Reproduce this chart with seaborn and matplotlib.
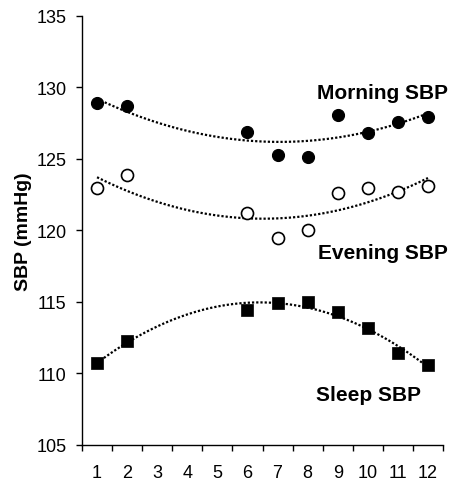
import numpy as np
import pandas as pd
import matplotlib
matplotlib.use("Agg")
import matplotlib.pyplot as plt
import seaborn as sns

months = [1, 2, 6, 7, 8, 9, 10, 11, 12]
morning = [128.9, 128.7, 126.85, 125.3, 125.1, 128.05, 126.8, 127.6, 127.9]
evening = [122.95, 123.9, 121.2, 119.5, 120.0, 122.6, 122.95, 122.7, 123.1]
sleep = [110.7, 112.3, 114.4, 114.9, 115.0, 114.3, 113.2, 111.4, 110.6]
xticks = list(range(1, 13))
yticks = [105, 110, 115, 120, 125, 130, 135]
labels = ["Morning SBP", "Evening SBP", "Sleep SBP"]

sns.set_style("ticks")
plt.rcParams['font.family'] = ['Liberation Sans', 'DejaVu Sans']
plt.rcParams['text.color'] = 'black'
plt.rcParams['axes.labelcolor'] = 'black'
plt.rcParams['xtick.color'] = 'black'
plt.rcParams['ytick.color'] = 'black'

df = pd.DataFrame({"month": months, "morning": morning, "evening": evening, "sleep": sleep})

fig = plt.figure(figsize=(4.5, 4.81), dpi=100)
ax = fig.add_axes([82/450, 35/481, (443-82)/450, 429.3/481])

line_kws = dict(color="black", lw=1.6, dashes=(1, 0.9), alpha=1)

sns.regplot(data=df, x="month", y="morning", order=2, ci=None, ax=ax,
            marker="o", scatter_kws=dict(s=75, color="black", edgecolor="black", linewidths=0.8, zorder=3, alpha=1),
            line_kws=line_kws)
sns.regplot(data=df, x="month", y="evening", order=2, ci=None, ax=ax,
            marker="o", scatter_kws=dict(s=75, facecolor="white", edgecolor="black", linewidths=1.2, zorder=3, alpha=1),
            line_kws=line_kws)
sns.regplot(data=df, x="month", y="sleep", order=2, ci=None, ax=ax,
            marker="s", scatter_kws=dict(s=70, color="black", edgecolor="black", linewidths=0.5, zorder=3, alpha=1),
            line_kws=line_kws)

ax.set_xlim(0.5, 12.5)
ax.set_ylim(105, 135)
ax.set_xticks(xticks)
ax.set_xticklabels([str(t) for t in xticks])
ax.set_xticks(np.arange(0.5, 13, 1), minor=True)
ax.tick_params(axis="x", which="major", length=0, labelsize=13, pad=14, colors="black")
ax.tick_params(axis="x", which="minor", length=4, width=1, color="black")
ax.set_yticks(yticks)
ax.tick_params(axis="y", length=4, width=1, labelsize=13, colors="black", pad=7)
ax.set_xlabel("")
ax.set_ylabel("SBP (mmHg)", fontsize=14, fontweight="bold", labelpad=1, color="black")
ax.yaxis.set_label_coords(-0.1385, 0.5)
sns.despine(ax=ax)
for s in ["left", "bottom"]:
    ax.spines[s].set_color("black")
    ax.spines[s].set_linewidth(1)

ax.text(12.67, 129.23, labels[0], ha="right", va="baseline", fontsize=15, fontweight="bold", clip_on=False, color="black")
ax.text(12.67, 118.05, labels[1], ha="right", va="baseline", fontsize=15, fontweight="bold", clip_on=False, color="black")
ax.text(11.77, 108.17, labels[2], ha="right", va="baseline", fontsize=15, fontweight="bold", clip_on=False, color="black")

fig.savefig("out.png", dpi=100)
